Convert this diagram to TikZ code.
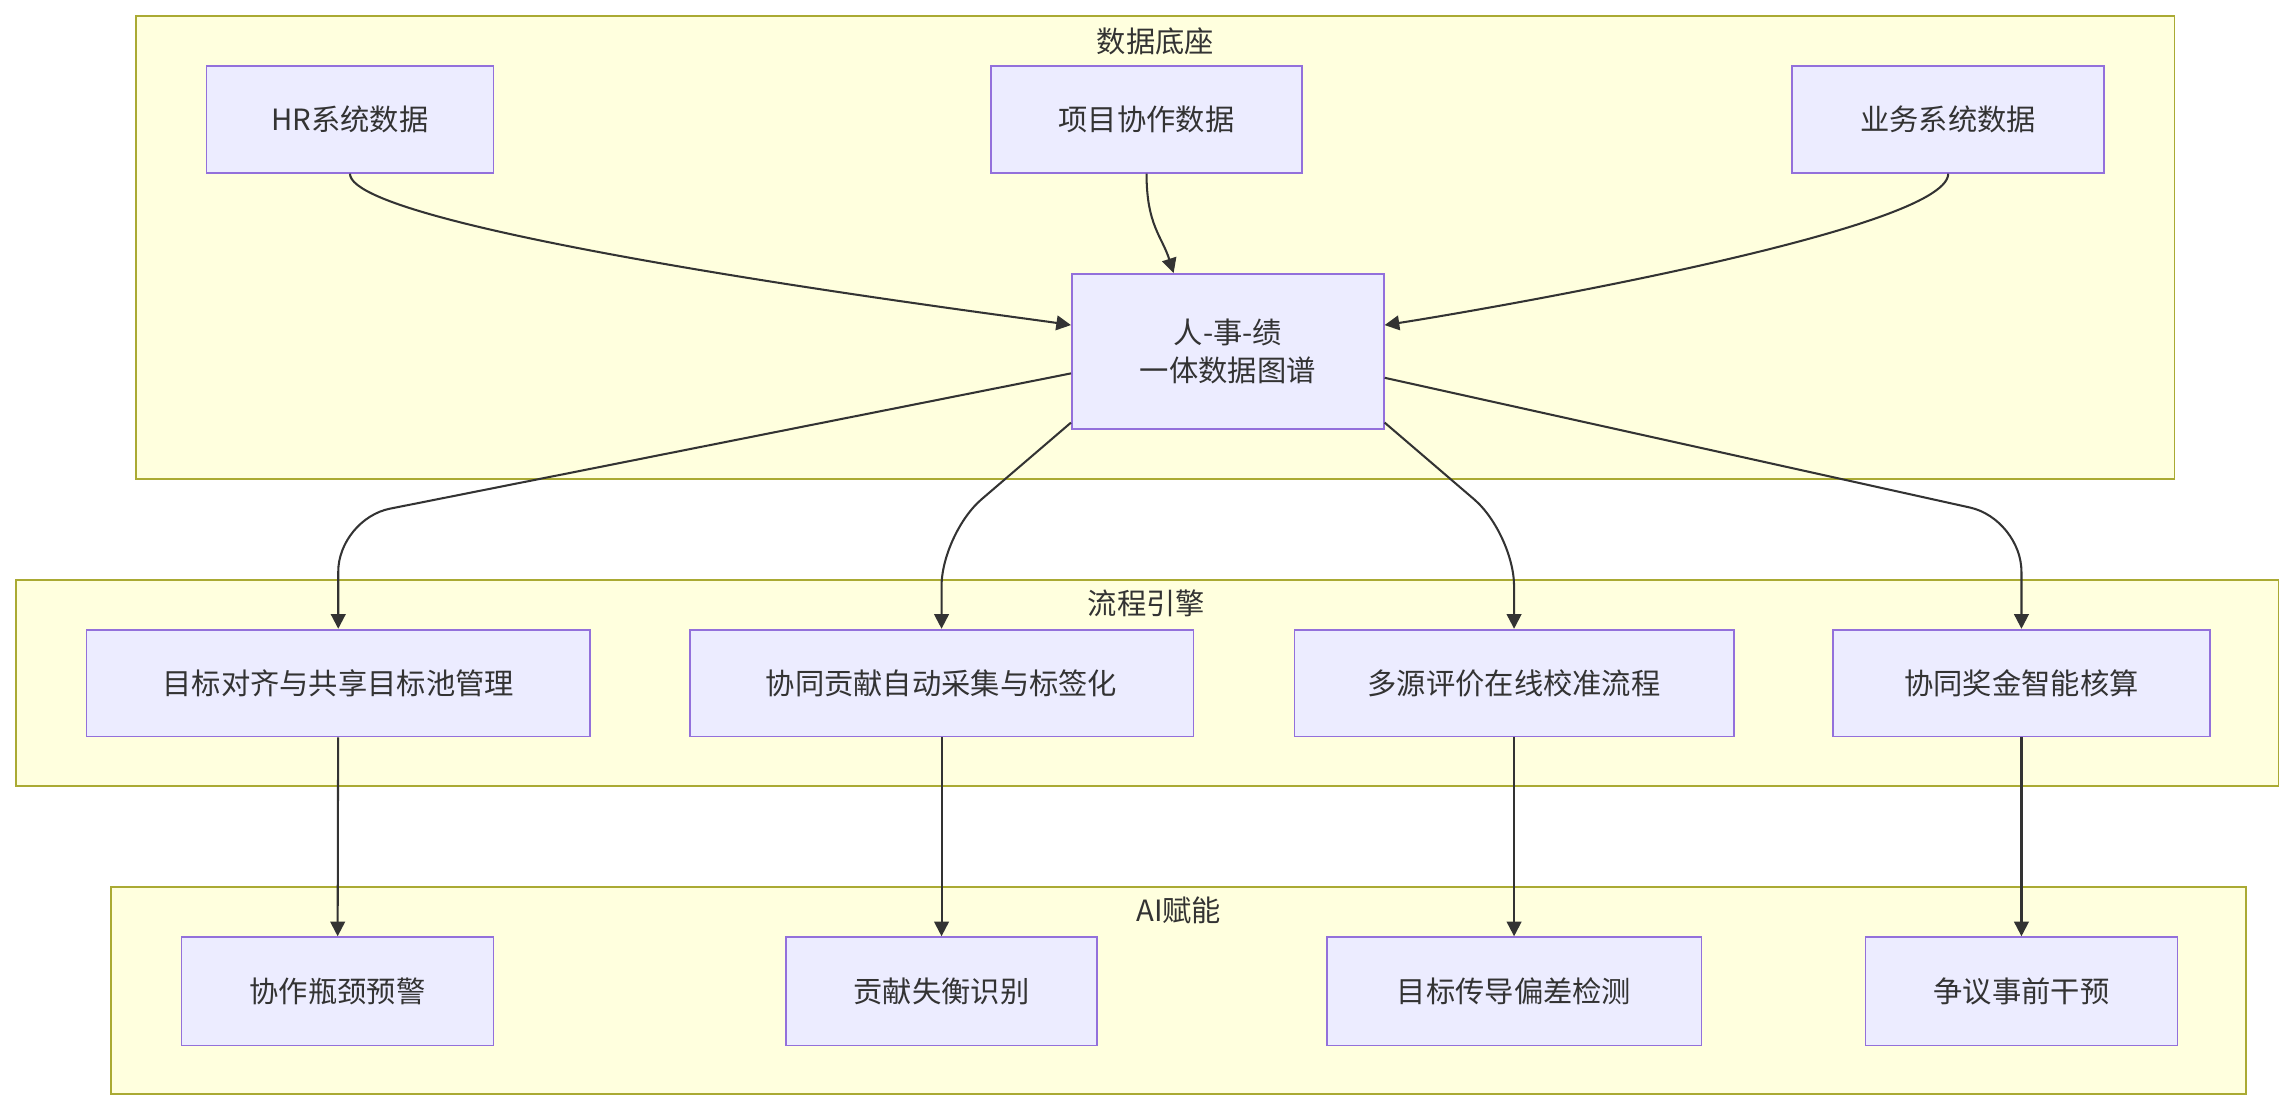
\documentclass[tikz,border=0pt]{standalone}
\usepackage{fontspec}
\setmainfont{Noto Sans CJK SC}
\usetikzlibrary{calc,arrows.meta}
\definecolor{cf}{HTML}{FFFFDE}\definecolor{cs}{HTML}{AAAA33}
\definecolor{nf}{HTML}{ECECFF}\definecolor{ns}{HTML}{9370DB}
\definecolor{tx}{HTML}{333333}
\begin{document}
\begin{tikzpicture}[x=0.5pt,y=-0.5pt,
 clu/.style={draw=cs,fill=cf,line width=0.6pt},
 ttl/.style={text=tx,font=\fontsize{10}{12}\selectfont},
 box/.style={draw=ns,fill=nf,line width=0.6pt,text=tx,font=\fontsize{10}{13}\selectfont,align=center},
 e/.style={draw=tx,line width=0.7pt,-{Triangle[length=5pt,width=5pt]},rounded corners=18pt}]
\useasboundingbox (0,0) rectangle (1568,760);
\draw[clu] (93,11) rectangle (1485,327);
\draw[clu] (11,396) rectangle (1556,537);
\draw[clu] (76,606) rectangle (1534,747);
\node[ttl] (t1) at (789,28) {数据底座};
\node[ttl] (t2) at (783,412) {流程引擎};
\node[ttl] (t3) at (805,622) {AI赋能};
\newcommand{\bx}[5]{\node[box,minimum width=#4*0.5pt,minimum height=#5*0.5pt] (#1) at (#2,#3) {\strut#1x};}
\def\mk#1#2#3#4#5#6{\node[box,minimum width=#5*0.5pt,minimum height=#6*0.5pt,inner sep=0pt] (#1) at (#3,#4) {#2};}
\mk{hr}{HR系统数据}{239}{81.5}{196}{73}
\mk{pj}{项目协作数据}{783}{81.5}{212}{73}
\mk{bz}{业务系统数据}{1330.5}{81.5}{213}{73}
\mk{c}{人-事-绩\\一体数据图谱}{838.5}{240}{213}{106}
\mk{a}{目标对齐与共享目标池管理}{231}{466.5}{344}{73}
\mk{b}{协同贡献自动采集与标签化}{643}{466.5}{344}{73}
\mk{cc}{多源评价在线校准流程}{1034}{466.5}{300}{73}
\mk{d}{协同奖金智能核算}{1380.5}{466.5}{257}{73}
\mk{a2}{协作瓶颈预警}{230.5}{677}{213}{74}
\mk{b2}{贡献失衡识别}{643}{677}{212}{74}
\mk{c2}{目标传导偏差检测}{1034}{677}{256}{74}
\mk{d2}{争议事前干预}{1380.5}{677}{213}{74}
\draw[e] (hr.south) .. controls +(0,40) and +(-40,-6) .. ([yshift=9pt]c.west);
\draw[e] (pj.south) .. controls +(0,35) and +(-8,-25) .. ([xshift=-18.5pt]c.north);
\draw[e] (bz.south) .. controls +(0,40) and +(40,-6) .. ([yshift=9pt]c.east);
\draw[e] ([yshift=-7.5pt]c.west) -- ($(a.north)+(0,-75)$) -- (a.north);
\draw[e] ([yshift=2.5pt]c.south west) -- ($(b.north)+(0,-65)$) -- (b.north);
\draw[e] ([yshift=2.5pt]c.south east) -- ($(cc.north)+(0,-65)$) -- (cc.north);
\draw[e] ([yshift=-9pt]c.east) -- ($(d.north)+(0,-75)$) -- (d.north);
\draw[e] (a) -- (a2); \draw[e] (b) -- (b2); \draw[e] (cc) -- (c2); \draw[e] (d) -- (d2);
\end{tikzpicture}
\end{document}
